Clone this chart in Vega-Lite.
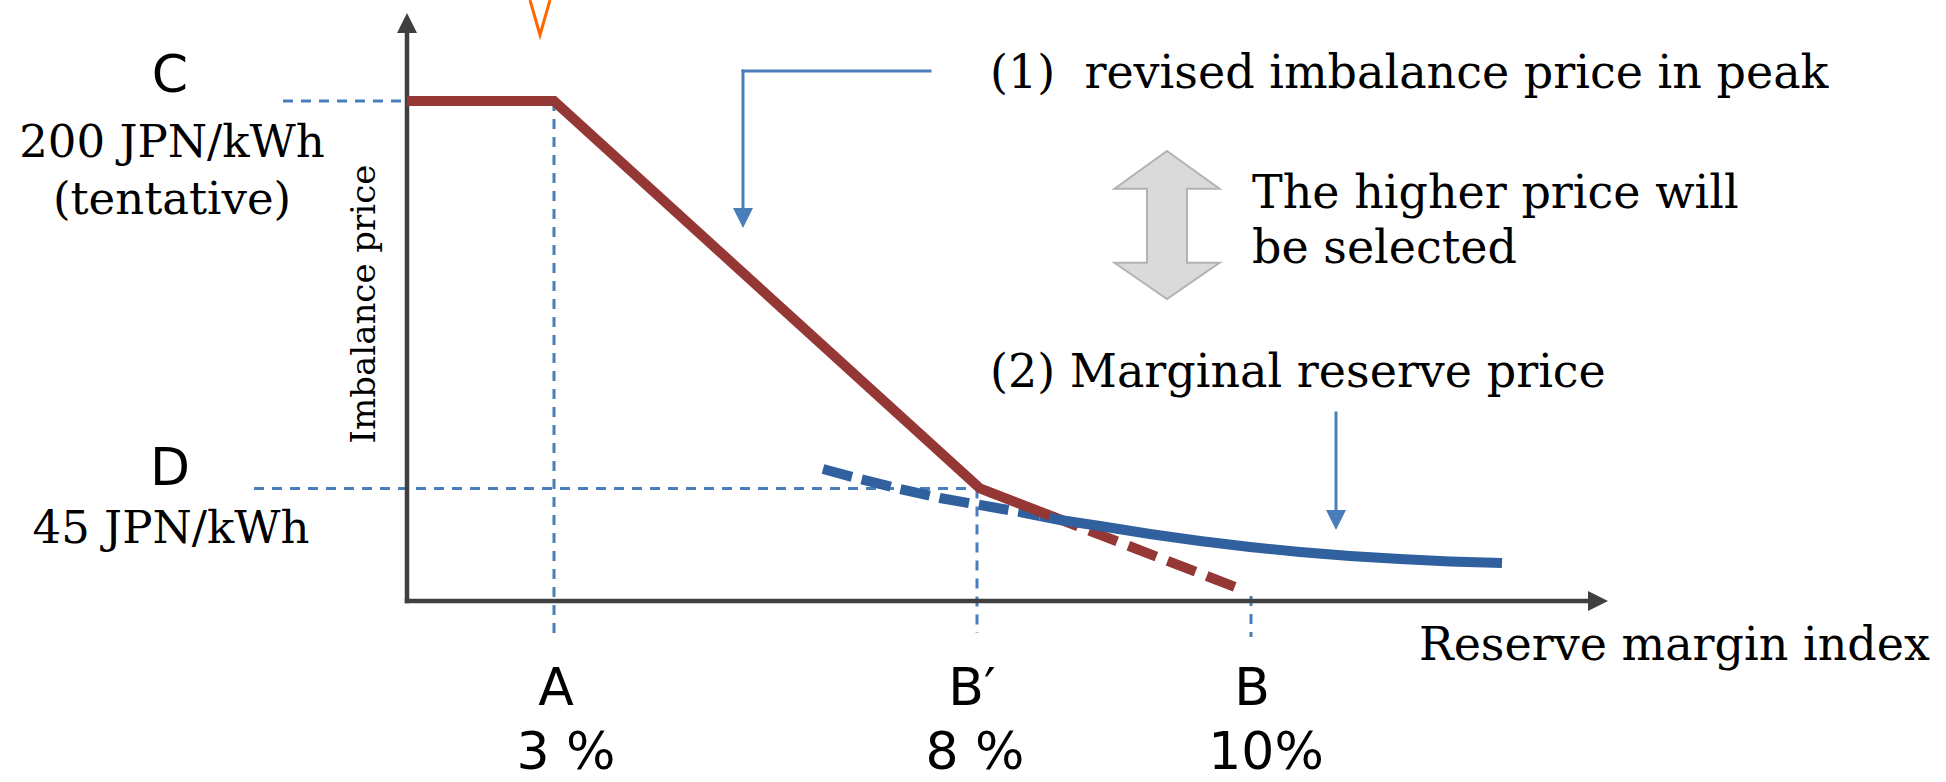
{
  "$schema": "https://vega.github.io/schema/vega-lite/v6.json",
  "width": 1946,
  "height": 782,
  "autosize": "none",
  "padding": 0,
  "background": "white",
  "config": {"view": {"stroke": null}},
  "datasets": {
    "guides": [
      {"name": "C", "x": -12.4, "x2": 14.7, "y": 200, "y2": 200},
      {"name": "A", "x": 14.7, "x2": 14.7, "y": 200, "y2": -13.6},
      {"name": "D", "x": -15.3, "x2": 57.2, "y": 45, "y2": 45},
      {"name": "B'", "x": 57.0, "x2": 57.0, "y": 45, "y2": -12.8},
      {"name": "B", "x": 84.4, "x2": 84.4, "y": 2, "y2": -14.4}
    ],
    "axes": [
      {"axis": "price", "x": 0, "x2": 0, "y": 0, "y2": 227.2},
      {"axis": "margin", "x": 0, "x2": 118.3, "y": 0, "y2": 0}
    ],
    "pointers": [
      {"label": "(1)", "x": 33.6, "x2": 52.3, "y": 212, "y2": 212},
      {"label": "(1)", "x": 33.6, "x2": 33.6, "y": 212, "y2": 156.4},
      {"label": "(2)", "x": 92.9, "x2": 92.9, "y": 75.2, "y2": 35.6}
    ],
    "heads": [
      {"x": 0, "y": 231.2, "dir": "up", "part": "axis"},
      {"x": 119.1, "y": 0, "dir": "right", "part": "axis"},
      {"x": 33.6, "y": 153.2, "dir": "down", "part": "pointer"},
      {"x": 92.9, "y": 32.4, "dir": "down", "part": "pointer"}
    ],
    "curves": [
      {"s": "red_solid", "x": 0, "y": 200},
      {"s": "red_solid", "x": 14.7, "y": 200},
      {"s": "red_solid", "x": 57.3, "y": 45},
      {"s": "red_solid", "x": 64.3, "y": 34.2},
      {"s": "red_dashed", "x": 64.3, "y": 34.2},
      {"s": "red_dashed", "x": 83.6, "y": 4.4},
      {"s": "blue_dashed", "x": 41.6, "y": 52.8},
      {"s": "blue_dashed", "x": 45.3, "y": 48.8},
      {"s": "blue_dashed", "x": 49.3, "y": 44.8},
      {"s": "blue_dashed", "x": 53.3, "y": 41.2},
      {"s": "blue_dashed", "x": 57.3, "y": 38.4},
      {"s": "blue_dashed", "x": 61.3, "y": 35.6},
      {"s": "blue_dashed", "x": 63.3, "y": 34.0},
      {"s": "blue_solid", "x": 63.3, "y": 34.0},
      {"s": "blue_solid", "x": 65.3, "y": 32.4},
      {"s": "blue_solid", "x": 69.3, "y": 30.0},
      {"s": "blue_solid", "x": 74.3, "y": 26.8},
      {"s": "blue_solid", "x": 79.3, "y": 24.0},
      {"s": "blue_solid", "x": 84.3, "y": 21.6},
      {"s": "blue_solid", "x": 89.3, "y": 19.6},
      {"s": "blue_solid", "x": 94.3, "y": 18.0},
      {"s": "blue_solid", "x": 99.3, "y": 16.8},
      {"s": "blue_solid", "x": 104.3, "y": 15.8},
      {"s": "blue_solid", "x": 109.5, "y": 15.2}
    ],
    "shapes": [{"kind": "double-arrow", "x": 76.0, "y": 150.4}],
    "marker": [
      {"x": 12.3, "y": 240.4},
      {"x": 13.3, "y": 226.4},
      {"x": 14.3, "y": 240.4}
    ],
    "labels": [
      {"kind": "sans", "text": "C", "x": -23.7, "y": 203.6},
      {"kind": "sans", "text": "D", "x": -23.7, "y": 46.4},
      {"kind": "sans", "text": "A", "x": 14.9, "y": -41.6},
      {"kind": "sans", "text": "B′", "x": 56.5, "y": -41.6},
      {"kind": "sans", "text": "B", "x": 84.5, "y": -41.6},
      {"kind": "sans", "text": "3 %", "x": 15.9, "y": -67.2},
      {"kind": "sans", "text": "8 %", "x": 56.8, "y": -67.2},
      {"kind": "sans", "text": "10%", "x": 85.9, "y": -67.2},
      {"kind": "value", "text": "200 JPN/kWh", "x": -23.5, "y": 177.6},
      {"kind": "value", "text": "(tentative)", "x": -23.5, "y": 154.8},
      {"kind": "value", "text": "45 JPN/kWh", "x": -23.6, "y": 23.2},
      {"kind": "note", "text": "(1)\u00a0 revised imbalance price in peak", "x": 58.3, "y": 205.2},
      {"kind": "note", "text": "The higher price will", "x": 84.5, "y": 157.2},
      {"kind": "note", "text": "be selected", "x": 84.5, "y": 135.2},
      {"kind": "note", "text": "(2) Marginal reserve price", "x": 58.3, "y": 85.6},
      {"kind": "note", "text": "Reserve margin index", "x": 101.2, "y": -23.6},
      {"kind": "ytitle", "text": "Imbalance price", "x": -4.2, "y": 118.8}
    ]
  },
  "encoding": {
    "x": {"field": "x", "type": "quantitative", "scale": {"domain": [-40.7, 153.9], "nice": false, "zero": false}, "axis": null},
    "y": {"field": "y", "type": "quantitative", "scale": {"domain": [-72.4, 240.4], "nice": false, "zero": false}, "axis": null}
  },
  "layer": [
    {
      "data": {"name": "guides"},
      "mark": {"type": "rule", "color": "#4a7ebb", "strokeWidth": 3, "strokeDash": [10, 8]},
      "encoding": {"x2": {"field": "x2"}, "y2": {"field": "y2"}}
    },
    {
      "data": {"name": "axes"},
      "mark": {"type": "rule", "color": "#404040", "strokeWidth": 4.5, "strokeCap": "square"},
      "encoding": {"x2": {"field": "x2"}, "y2": {"field": "y2"}}
    },
    {
      "data": {"name": "pointers"},
      "mark": {"type": "rule", "color": "#4a7ebb", "strokeWidth": 3, "strokeCap": "square"},
      "encoding": {"x2": {"field": "x2"}, "y2": {"field": "y2"}}
    },
    {
      "data": {"name": "heads"},
      "mark": {"type": "point", "filled": true, "opacity": 1, "size": 400},
      "encoding": {
        "shape": {"field": "dir", "type": "nominal", "legend": null, "scale": {"domain": ["up", "right", "down"], "range": ["M0,-1L1,1L-1,1Z", "M1,0L-1,-1L-1,1Z", "M0,1L1,-1L-1,-1Z"]}},
        "color": {"field": "part", "type": "nominal", "legend": null, "scale": {"domain": ["axis", "pointer"], "range": ["#404040", "#4a7ebb"]}}
      }
    },
    {
      "data": {"name": "curves"},
      "transform": [{"filter": "datum.s === 'blue_dashed'"}],
      "mark": {"type": "line", "color": "#30609e", "strokeWidth": 10, "strokeDash": [30, 10], "strokeCap": "butt"},
      "encoding": {}
    },
    {
      "data": {"name": "curves"},
      "transform": [{"filter": "datum.s === 'red_dashed'"}],
      "mark": {"type": "line", "color": "#953735", "strokeWidth": 10, "strokeDash": [30, 12], "strokeCap": "butt"},
      "encoding": {}
    },
    {
      "data": {"name": "curves"},
      "transform": [{"filter": "datum.s === 'blue_solid'"}],
      "mark": {"type": "line", "color": "#30609e", "strokeWidth": 10, "strokeCap": "butt"},
      "encoding": {}
    },
    {
      "data": {"name": "curves"},
      "transform": [{"filter": "datum.s === 'red_solid'"}],
      "mark": {"type": "line", "color": "#953735", "strokeWidth": 10, "strokeCap": "butt", "strokeJoin": "miter"},
      "encoding": {}
    },
    {
      "data": {"name": "shapes"},
      "mark": {"type": "point", "shape": "M0,-1L0.71,-0.49L0.27,-0.49L0.27,0.51L0.71,0.51L0,1L-0.71,0.51L-0.27,0.51L-0.27,-0.49L-0.71,-0.49Z", "size": 21904, "filled": true, "fill": "#dadada", "stroke": "#b3b3b3", "strokeWidth": 2, "opacity": 1}
    },
    {
      "data": {"name": "marker"},
      "mark": {"type": "line", "color": "#ff6600", "strokeWidth": 3},
      "encoding": {}
    },
    {
      "data": {"name": "labels"},
      "transform": [{"filter": "datum.kind === 'sans'"}],
      "mark": {"type": "text", "font": "DejaVu Sans", "fontSize": 52, "align": "center", "baseline": "alphabetic", "color": "#000000"},
      "encoding": {"text": {"field": "text"}}
    },
    {
      "data": {"name": "labels"},
      "transform": [{"filter": "datum.kind === 'value'"}],
      "mark": {"type": "text", "font": "DejaVu Serif", "fontSize": 45, "align": "center", "baseline": "alphabetic", "color": "#000000"},
      "encoding": {"text": {"field": "text"}}
    },
    {
      "data": {"name": "labels"},
      "transform": [{"filter": "datum.kind === 'note'"}],
      "mark": {"type": "text", "font": "DejaVu Serif", "fontSize": 46, "align": "left", "baseline": "alphabetic", "color": "#000000"},
      "encoding": {"text": {"field": "text"}}
    },
    {
      "data": {"name": "labels"},
      "transform": [{"filter": "datum.kind === 'ytitle'"}],
      "mark": {"type": "text", "font": "DejaVu Serif", "fontSize": 34, "align": "center", "baseline": "middle", "angle": 270, "color": "#000000"},
      "encoding": {"text": {"field": "text"}}
    }
  ]
}
